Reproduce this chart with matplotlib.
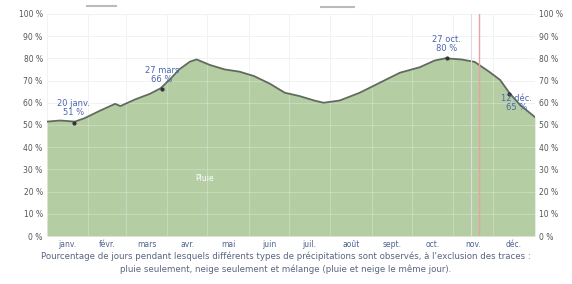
import matplotlib.pyplot as plt

# day of year / percent of days with rain
days = [0, 10, 21, 28, 40, 51, 55, 66, 77, 85, 92, 99, 107, 112, 122, 133, 144, 155,
        167, 178, 189, 200, 207, 219, 234, 249, 264, 279, 290, 298, 310, 320, 331,
        339, 346, 354, 365]
rain_pct = [51.5, 52, 51.5, 53, 56.5, 59.5, 58.5, 61.5, 64, 66.5, 70.5, 75, 78.5, 79.5,
            77, 75, 74, 72, 68.5, 64.5, 63, 61, 60, 61, 64.5, 69, 73.5, 76, 79, 80,
            79.5, 78.4, 73.9, 70.3, 64.4, 59, 53.6]

months = ["janv.", "févr.", "mars", "avr.", "mai", "juin", "juil.", "août",
          "sept.", "oct.", "nov.", "déc."]
month_starts = [0, 31, 59, 90, 120, 151, 181, 212, 243, 273, 304, 334, 365]

# annotated points: day, value, label
note_days = [20, 86, 299, 346]
note_vals = [51, 66, 80, 64]
note_labels = ["20 janv.\n51 %", "27 mars\n66 %", "27 oct.\n80 %", "12 déc.\n65 %"]
today = 323

caption = ("Pourcentage de jours pendant lesquels différents types de précipitations sont observés, à l'exclusion des traces :\n"
           "pluie seulement, neige seulement et mélange (pluie et neige le même jour).")

fig = plt.figure(figsize=(5.72, 2.84), dpi=100)
ax = fig.add_axes([0.082, 0.169, 0.853, 0.782])

ax.fill_between(days, 0, rain_pct, color='#b4cda3', lw=0, zorder=1)
ax.plot(days, rain_pct, color='#5f6a5c', lw=1.3, zorder=3)

# grid: grey in the open part, pale lines over the green
for d in month_starts:
    ax.axvline(d, color='#ebebeb', lw=0.6, zorder=0)
    ax.axvline(d, color='white', alpha=0.3, lw=0.6, zorder=2)
for p in range(0, 101, 10):
    ax.axhline(p, color='#ebebeb', lw=0.6, zorder=0)
    ax.axhline(p, color='white', alpha=0.3, lw=0.6, zorder=2)

ax.axvline(today, color='#e8a3a3', lw=1.0, zorder=4)
ax.axvline(today - 6, color='#dcdcdc', lw=0.8, zorder=4)

ax.text(118, 26, "Pluie", color='white', fontsize=5.5, ha='center', va='center', zorder=5)

offsets = [(0, 4), (0, 4), (0, 4), (5, -13)]
for d, v, lab, off in zip(note_days, note_vals, note_labels, offsets):
    ax.plot(d, v, 'o', color='#333333', ms=2, zorder=5)
    ax.annotate(lab, (d, v), xytext=off, textcoords='offset points', color='#4a66b0',
                fontsize=6, ha='center', va='bottom', linespacing=1.0, zorder=5)

ax.set_xlim(0, 365)
ax.set_ylim(0, 100)
centers = [(month_starts[i] + month_starts[i + 1]) / 2 for i in range(12)]
ax.set_xticks(centers)
ax.set_xticklabels(months, fontsize=5.5, color='#4f6390')
ax.set_yticks(range(0, 101, 10))
ax.set_yticklabels([f"{p} %" for p in range(0, 101, 10)], fontsize=5.5, color='#555555')
ax.tick_params(length=0, pad=3)
for s in ax.spines.values():
    s.set_visible(False)

ax2 = ax.twinx()
ax2.set_ylim(0, 100)
ax2.set_yticks(range(0, 101, 10))
ax2.set_yticklabels([f"{p} %" for p in range(0, 101, 10)], fontsize=5.5, color='#555555')
ax2.tick_params(length=0, pad=3)
for s in ax2.spines.values():
    s.set_visible(False)

# grey markers along the top
ax.plot([30, 52], [103.5, 103.5], color='#bbbbbb', lw=1.5, clip_on=False)
ax.plot([205, 230], [103, 103], color='#bbbbbb', lw=1.5, clip_on=False)

fig.text(0.5, 0.035, caption, ha='center', va='bottom', fontsize=6.2, color='#5a6480',
         linespacing=1.5)

plt.savefig("out.png", dpi=100)
